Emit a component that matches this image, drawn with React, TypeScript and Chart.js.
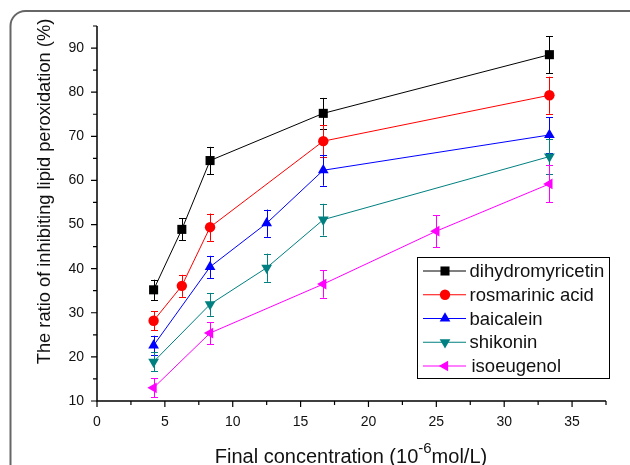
import React, { useEffect, useRef } from "react";
import { Chart, registerables } from "chart.js";
Chart.register(...registerables);

const xTicks = [0, 5, 10, 15, 20, 25, 30, 35];
const xMinor = [2.5, 7.5, 12.5, 17.5, 22.5, 27.5, 32.5, 37.5];
const yTicks = [10, 20, 30, 40, 50, 60, 70, 80, 90];
const yMinor = [15, 25, 35, 45, 55, 65, 75, 85, 95];

const seriesNames = ["dihydromyricetin", "rosmarinic acid", "baicalein", "shikonin", "isoeugenol"];
const seriesColors = ["#000000", "#ff0000", "#0000ff", "#008080", "#ff00ff"];

const dihydroX = [4.17, 6.25, 8.33, 16.67, 33.33];
const dihydroY = [35.2, 48.9, 64.5, 75.2, 88.5];
const dihydroErr = [2.3, 2.5, 3.1, 3.5, 4.2];

const rosX = [4.17, 6.25, 8.33, 16.67, 33.33];
const rosY = [28.2, 36.1, 49.4, 68.9, 79.3];
const rosErr = [2.2, 2.5, 3.1, 3.6, 4.2];

const baiX = [4.17, 8.33, 12.5, 16.67, 33.33];
const baiY = [22.6, 40.4, 50.3, 62.3, 70.3];
const baiErr = [2.2, 2.5, 3.1, 3.5, 4.0];

const shiX = [4.17, 8.33, 12.5, 16.67, 33.33];
const shiY = [18.9, 31.9, 40.2, 51.1, 65.4];
const shiErr = [2.1, 2.6, 3.2, 3.6, 4.0];

const isoX = [4.17, 8.33, 16.67, 25, 33.33];
const isoY = [13.0, 25.4, 36.5, 48.5, 59.2];
const isoErr = [2.2, 2.5, 3.1, 3.6, 4.2];

const allX = [dihydroX, rosX, baiX, shiX, isoX];
const allY = [dihydroY, rosY, baiY, shiY, isoY];
const allErr = [dihydroErr, rosErr, baiErr, shiErr, isoErr];

const pointStyles: any[] = ["rect", "circle", "triangle", "triangle", "triangle"];
const pointRotations = [0, 0, 0, 180, 270];
const pointRadii = [6.4, 5.2, 6.2, 6.2, 6.2];

const FONT = "'Liberation Sans', Arial, sans-serif";

function drawMarker(ctx: CanvasRenderingContext2D, style: string, x: number, y: number, r: number, rot: number) {
  ctx.beginPath();
  if (style === "rect") {
    const s = r * Math.SQRT1_2;
    ctx.rect(x - s, y - s, 2 * s, 2 * s);
  } else if (style === "circle") {
    ctx.arc(x, y, r, 0, Math.PI * 2);
  } else {
    let rad = (rot * Math.PI) / 180;
    ctx.moveTo(x + Math.sin(rad) * r, y - Math.cos(rad) * r);
    rad += (2 * Math.PI) / 3;
    ctx.lineTo(x + Math.sin(rad) * r, y - Math.cos(rad) * r);
    rad += (2 * Math.PI) / 3;
    ctx.lineTo(x + Math.sin(rad) * r, y - Math.cos(rad) * r);
    ctx.closePath();
  }
  ctx.fill();
}

const customPlugin = {
  id: "custom",
  beforeDraw(chart: any) {
    const ctx = chart.ctx;
    ctx.save();
    ctx.fillStyle = "#ffffff";
    ctx.fillRect(0, 0, chart.width, chart.height);
    ctx.strokeStyle = "#666666";
    ctx.lineWidth = 2;
    ctx.beginPath();
    const fx = 10.5, fy = 11, fw = 640, fh = 480, r = 15;
    ctx.moveTo(fx + r, fy);
    ctx.lineTo(fx + fw - r, fy);
    ctx.arcTo(fx + fw, fy, fx + fw, fy + r, r);
    ctx.lineTo(fx + fw, fy + fh);
    ctx.lineTo(fx, fy + fh);
    ctx.lineTo(fx, fy + r);
    ctx.arcTo(fx, fy, fx + r, fy, r);
    ctx.stroke();
    ctx.restore();
  },
  beforeDatasetsDraw(chart: any) {
    const ctx = chart.ctx;
    const xs = chart.scales.x;
    const ys = chart.scales.y;
    ctx.save();
    ctx.lineWidth = 1;
    allX.forEach((xArr, si) => {
      ctx.strokeStyle = seriesColors[si];
      xArr.forEach((xv, i) => {
        const px = Math.round(xs.getPixelForValue(xv)) + 0.5;
        const top = ys.getPixelForValue(allY[si][i] + allErr[si][i]);
        const bot = ys.getPixelForValue(allY[si][i] - allErr[si][i]);
        ctx.beginPath();
        ctx.moveTo(px, top);
        ctx.lineTo(px, bot);
        ctx.moveTo(px - 3.5, Math.round(top) + 0.5);
        ctx.lineTo(px + 3.5, Math.round(top) + 0.5);
        ctx.moveTo(px - 3.5, Math.round(bot) + 0.5);
        ctx.lineTo(px + 3.5, Math.round(bot) + 0.5);
        ctx.stroke();
      });
    });
    ctx.restore();
  },
  afterDraw(chart: any) {
    const ctx = chart.ctx;
    const xs = chart.scales.x;
    const ys = chart.scales.y;
    const area = chart.chartArea;
    ctx.save();
    ctx.strokeStyle = "#000000";
    ctx.lineWidth = 1.5;
    ctx.beginPath();
    ctx.moveTo(area.left, area.top);
    ctx.lineTo(area.left, area.bottom);
    ctx.lineTo(area.right, area.bottom);
    ctx.stroke();
    ctx.lineWidth = 1.2;
    ctx.beginPath();
    xTicks.forEach((v) => {
      const p = xs.getPixelForValue(v);
      ctx.moveTo(p, area.bottom);
      ctx.lineTo(p, area.bottom + 6);
    });
    xMinor.forEach((v) => {
      const p = xs.getPixelForValue(v);
      ctx.moveTo(p, area.bottom);
      ctx.lineTo(p, area.bottom + 4);
    });
    yTicks.forEach((v) => {
      const p = ys.getPixelForValue(v);
      ctx.moveTo(area.left, p);
      ctx.lineTo(area.left - 6, p);
    });
    yMinor.forEach((v) => {
      const p = ys.getPixelForValue(v);
      if (p < area.top) return;
      ctx.moveTo(area.left, p);
      ctx.lineTo(area.left - 4, p);
    });
    ctx.stroke();
    ctx.fillStyle = "#111111";
    ctx.font = `14px ${FONT}`;
    ctx.textAlign = "center";
    ctx.textBaseline = "middle";
    xTicks.forEach((v) => {
      ctx.fillText(String(v), xs.getPixelForValue(v), area.bottom + 21);
    });
    ctx.textAlign = "right";
    yTicks.forEach((v) => {
      ctx.fillText(String(v), area.left - 13, ys.getPixelForValue(v));
    });
    ctx.save();
    ctx.translate(45, 191.5);
    ctx.rotate(-Math.PI / 2);
    ctx.font = `18.3px ${FONT}`;
    ctx.textAlign = "center";
    ctx.textBaseline = "middle";
    ctx.fillStyle = "#111111";
    ctx.fillText("The ratio of inhibiting lipid peroxidation (%)", 0, 0);
    ctx.restore();
    const part1 = "Final concentration (10";
    const sup = "-6";
    const part2 = "mol/L)";
    ctx.textAlign = "left";
    ctx.textBaseline = "alphabetic";
    ctx.font = `20px ${FONT}`;
    const w1 = ctx.measureText(part1).width;
    const w3 = ctx.measureText(part2).width;
    ctx.font = `15px ${FONT}`;
    const w2 = ctx.measureText(sup).width;
    const total = w1 + w2 + w3;
    let sx = 351 - total / 2;
    const baseY = 463;
    ctx.font = `20px ${FONT}`;
    ctx.fillText(part1, sx, baseY);
    sx += w1;
    ctx.font = `15px ${FONT}`;
    ctx.fillText(sup, sx, baseY - 10);
    sx += w2;
    ctx.font = `20px ${FONT}`;
    ctx.fillText(part2, sx, baseY);
    const lx = 417, ly = 257, lw = 192, lh = 121;
    ctx.fillStyle = "#ffffff";
    ctx.fillRect(lx, ly, lw, lh);
    ctx.strokeStyle = "#000000";
    ctx.lineWidth = 1;
    ctx.strokeRect(lx + 0.5, ly + 0.5, lw, lh);
    ctx.font = `18.5px ${FONT}`;
    ctx.textBaseline = "middle";
    ctx.textAlign = "left";
    chart.data.datasets.forEach((ds: any, i: number) => {
      const y = 271 + i * 23.75;
      ctx.strokeStyle = ds.borderColor;
      ctx.lineWidth = 1;
      ctx.beginPath();
      ctx.moveTo(423, y);
      ctx.lineTo(466, y);
      ctx.stroke();
      ctx.fillStyle = ds.backgroundColor;
      drawMarker(ctx, ds.pointStyle, 445, y, ds.pointRadius, ds.rotation);
      ctx.fillStyle = "#111111";
      ctx.fillText(ds.label, i === 4 ? 471.5 : 469.5, y + 1);
    });
    ctx.restore();
  },
};

export default function App() {
  const ref = useRef<HTMLCanvasElement | null>(null);
  useEffect(() => {
    document.body.style.margin = "0";
    if (!ref.current) return;
    const datasets = seriesNames.map((name, i) => ({
      label: name,
      data: allX[i].map((x, j) => ({ x, y: allY[i][j] })),
      borderColor: seriesColors[i],
      backgroundColor: seriesColors[i],
      borderWidth: 1,
      pointStyle: pointStyles[i],
      rotation: pointRotations[i],
      pointRadius: pointRadii[i],
      pointBorderWidth: 0,
      pointBackgroundColor: seriesColors[i],
      pointBorderColor: seriesColors[i],
      showLine: true,
      tension: 0,
      clip: false as any,
    }));
    const chart = new Chart(ref.current, {
      type: "scatter",
      data: { datasets },
      options: {
        animation: false,
        responsive: false,
        devicePixelRatio: 1,
        layout: { padding: { left: 0, top: 26, right: 24, bottom: 0 } },
        plugins: { legend: { display: false }, tooltip: { enabled: false } },
        scales: {
          x: {
            type: "linear",
            min: 0,
            max: 37.5,
            grid: { display: false },
            border: { display: false },
            ticks: { display: false },
            afterFit: (s: any) => {
              s.height = 64;
            },
          },
          y: {
            type: "linear",
            min: 10,
            max: 95,
            grid: { display: false },
            border: { display: false },
            ticks: { display: false },
            afterFit: (s: any) => {
              s.width = 97;
            },
          },
        },
      },
      plugins: [customPlugin],
    } as any);
    return () => chart.destroy();
  }, []);
  return (
    <div style={{ position: "absolute", left: 0, top: 0, width: 630, height: 465 }}>
      <canvas ref={ref} width={630} height={465} style={{ width: 630, height: 465 }} />
    </div>
  );
}
